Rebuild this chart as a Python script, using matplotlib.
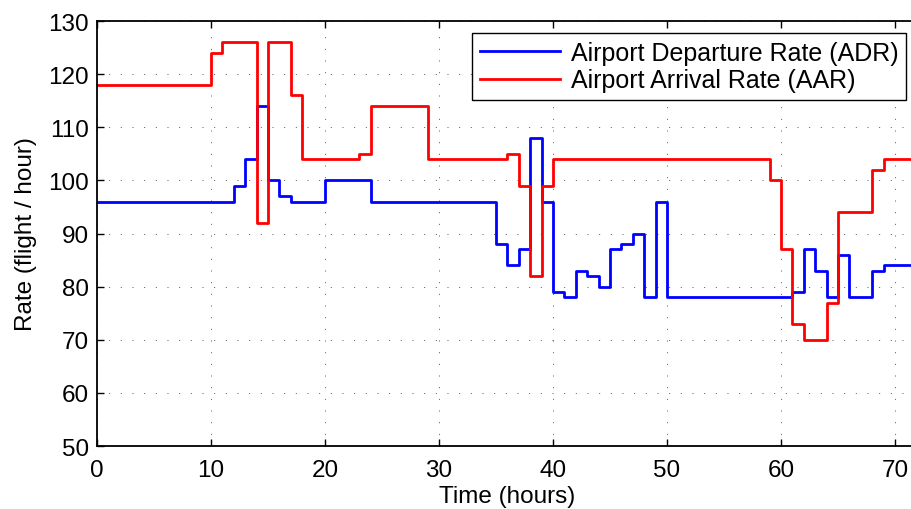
import matplotlib
matplotlib.use("Agg")
import matplotlib.pyplot as plt

# step data (value holds from each time until the next)
adr_time = [0, 12, 13, 14, 15, 16, 17, 20, 24, 35, 36, 37, 38, 39, 40, 41, 42, 43, 44,
            45, 46, 47, 48, 49, 50, 61, 62, 63, 64, 65, 66, 68, 69, 72]
adr_rate = [96, 99, 104, 114, 100, 97, 96, 100, 96, 88, 84, 87, 108, 96, 79, 78, 83, 82, 80,
            87, 88, 90, 78, 96, 78, 79, 87, 83, 78, 86, 78, 83, 84, 84]

aar_time = [0, 10, 11, 14, 15, 17, 18, 23, 24, 29, 36, 37, 38, 39, 40, 59, 60, 61, 62,
            64, 65, 68, 69, 72]
aar_rate = [118, 124, 126, 92, 126, 116, 104, 105, 114, 104, 105, 99, 82, 99, 104, 100, 87, 73, 70,
            77, 94, 102, 104, 104]

x_ticks = [0, 10, 20, 30, 40, 50, 60, 70]
y_ticks = [50, 60, 70, 80, 90, 100, 110, 120, 130]

plt.rcParams['font.family'] = ['Liberation Sans', 'DejaVu Sans']
fs = 17.5

fig = plt.figure(figsize=(9.12, 5.10), dpi=100)
# right edge of the axes falls just past the figure, as in the cropped original
ax = fig.add_axes([0.1064, 0.1235, 0.9, 0.8333])

ax.plot(adr_time, adr_rate, drawstyle='steps-post', color='#0000ff', lw=2,
        label='Airport Departure Rate (ADR)')
ax.plot(aar_time, aar_rate, drawstyle='steps-post', color='#ff0000', lw=2,
        label='Airport Arrival Rate (AAR)')

ax.set_xlim(0, 72)
ax.set_ylim(50, 130)
ax.set_xticks(x_ticks)
ax.set_yticks(y_ticks)
ax.tick_params(direction='in', top=True, right=True, length=5, width=1, labelsize=fs)
ax.tick_params(axis='x', pad=9)
ax.tick_params(axis='y', pad=6)
ax.grid(True, linestyle=(0, (1, 11)), color='#555555', linewidth=0.7)
for s in ax.spines.values():
    s.set_linewidth(1.3)

ax.set_xlabel('Time (hours)', fontsize=fs, labelpad=3)
ax.set_ylabel('Rate (flight / hour)', fontsize=fs, labelpad=8)

leg = ax.legend(loc='upper right', bbox_to_anchor=(0.9856, 0.9718), fontsize=18,
                fancybox=False, framealpha=1, edgecolor='black', handlelength=3.2,
                borderpad=0.3, labelspacing=0.15, handletextpad=0.45, borderaxespad=0)
leg.get_frame().set_linewidth(1.0)

fig.savefig('out.png', dpi=100)
